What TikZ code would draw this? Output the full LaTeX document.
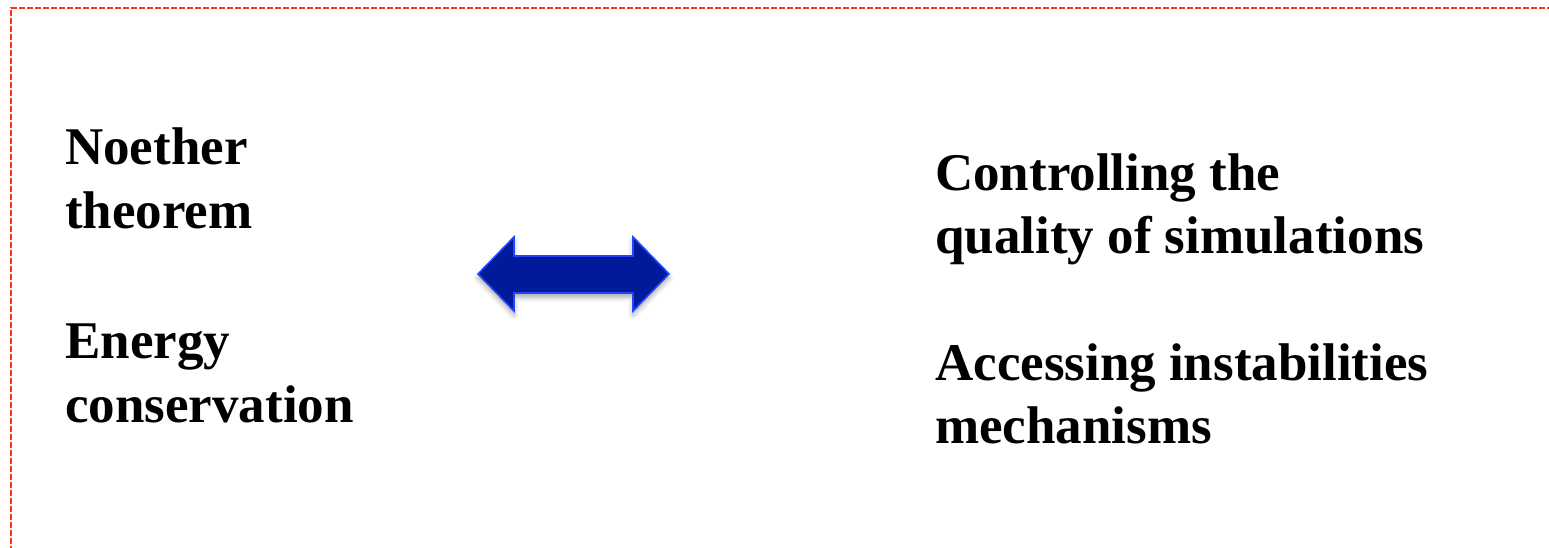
\documentclass[tikz,border=0pt]{standalone}
\usepackage{fontspec}
\setmainfont{Liberation Serif}
\usetikzlibrary{shadows.blur}
\definecolor{frameRed}{HTML}{FF3311}
\definecolor{arrowFill}{HTML}{001A99}
\definecolor{arrowEdge}{HTML}{2244FF}
\tikzset{
  label line/.style={anchor=base west, inner sep=0pt,
    font=\fontsize{53}{63}\selectfont\bfseries},
  frame/.style={draw=frameRed, line width=2pt, dash pattern=on 6pt off 2pt},
  double arrow/.style={fill=arrowFill, draw=arrowEdge, line width=1.6pt,
    line join=miter, blur shadow={shadow xshift=0pt, shadow yshift=-4pt,
    shadow blur radius=5pt, shadow opacity=35}}
}
\begin{document}
\begin{tikzpicture}[x=1pt, y=-1pt]
  \useasboundingbox (0,0) rectangle (1549,548);
  % dashed frame (open towards right and bottom)
  \draw[frame] (11,560) -- (11,8) -- (1570,8);

  % left column
  \node[label line] (noether) at (65,165) {Noether};
  \node[label line] (theorem) at (65,228) {theorem};
  \node[label line] (energy) at (65,358) {Energy};
  \node[label line] (conservation) at (65,422) {conservation};

  % right column
  \node[label line] (controlling) at (935,190) {Controlling the};
  \node[label line] (quality) at (935,253) {quality of simulations};
  \node[label line] (accessing) at (935,380) {Accessing instabilities};
  \node[label line] (mechanisms) at (935,443) {mechanisms};

  % double-headed block arrow
  \path[double arrow] (478,274) -- (514,237) -- (514,256) -- (633,256)
    -- (633,237) -- (669,274) -- (633,311) -- (633,293) -- (514,293)
    -- (514,311) -- cycle;
\end{tikzpicture}
\end{document}
